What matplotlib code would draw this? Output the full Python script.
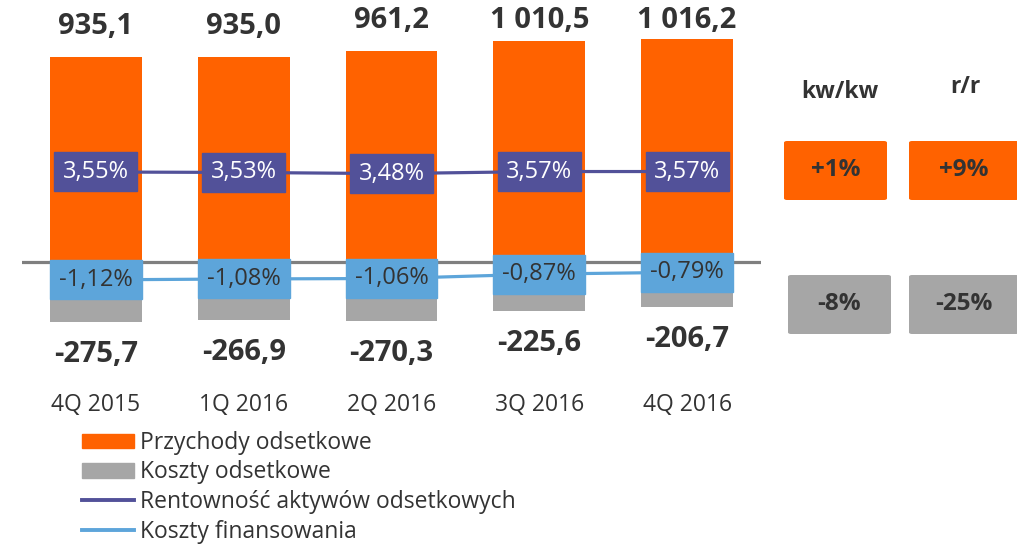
import matplotlib
matplotlib.use("Agg")
import matplotlib.pyplot as plt
from matplotlib.patches import Rectangle, FancyBboxPatch, Patch
from matplotlib.lines import Line2D

plt.rcParams['font.family'] = ['Open Sans', 'DejaVu Sans']

# ---- data ----
categories = ["4Q 2015", "1Q 2016", "2Q 2016", "3Q 2016", "4Q 2016"]
przychody = [935.1, 935.0, 961.2, 1010.5, 1016.2]
koszty = [-275.7, -266.9, -270.3, -225.6, -206.7]
rentownosc = [3.55, 3.53, 3.48, 3.57, 3.57]
koszty_fin = [-1.12, -1.08, -1.06, -0.87, -0.79]
change_headers = ["kw/kw", "r/r"]
change_przychody = ["+1%", "+9%"]
change_koszty = ["-8%", "-25%"]
legend_labels = ["Przychody odsetkowe", "Koszty odsetkowe",
                 "Rentowność aktywów odsetkowych", "Koszty finansowania"]

ORANGE = "#FF6200"
GRAY = "#A6A6A6"
PURPLE = "#525199"
LBLUE = "#5DA5DA"
TXT = "#333333"
ZERO = "#7F7F7F"

W, H = 1017, 546
fig = plt.figure(figsize=(W / 100, H / 100), dpi=100)

def fx(x):
    return x / W

def fy(y):
    return 1 - y / H

# main axes: pixel x 22..761, pixel y 0..390
ax = fig.add_axes([fx(22), fy(390), (761 - 22) / W, 390 / H])
ax2 = ax.twinx()
ax2.set_position(ax.get_position())

x = list(range(len(categories)))
bw = 0.62
ax.bar(x, przychody, width=bw, color=ORANGE, zorder=2)
ax.bar(x, koszty, width=bw, color=GRAY, zorder=2)
ax.axhline(0, color=ZERO, lw=2.3, zorder=3)

scale = 0.219  # px per unit
ax.set_ylim(-(390 - 262) / scale, 262 / scale)
ax.set_xlim(-0.5, len(categories) - 0.5)

pscale = 23.1  # px per %
ax2.set_ylim((254 - 390) / pscale, 254 / pscale)

top_limit = (262 - 20) / scale  # labels never rise above this level
for i, v in enumerate(przychody):
    ly = min(v + 31 / scale, top_limit)
    ax.text(i, ly, f"{v:,.1f}".replace(",", " ").replace(".", ","),
            ha="center", va="center", fontsize=21, fontweight="bold", color=TXT)
for i, v in enumerate(koszty):
    ax.annotate(f"{v:.1f}".replace(".", ","), (i, v),
                xytext=(0, -23), textcoords="offset points",
                ha="center", va="center", fontsize=21, fontweight="bold", color=TXT)

ax.set_xticks(x)
ax.set_xticklabels(categories, fontsize=16.5, color=TXT)
ax.tick_params(axis="x", length=0, pad=2)
ax.set_yticks([])
ax2.set_yticks([])
for a in (ax, ax2):
    for s in a.spines.values():
        s.set_visible(False)
    a.patch.set_visible(False)

ax2.plot(x, rentownosc, color=PURPLE, lw=2.3, zorder=2)
ax2.plot(x, koszty_fin, color=LBLUE, lw=2.3, zorder=2)

bh = 39 / pscale
pw = 83 / 147.8
for i, v in enumerate(rentownosc):
    ax2.add_patch(Rectangle((i - pw / 2, v - bh / 2), pw, bh, color=PURPLE, zorder=4))
    ax2.text(i, v, f"{v:.2f}%".replace(".", ","), ha="center", va="center",
             fontsize=17, color="white", zorder=5)
for i, v in enumerate(koszty_fin):
    ax2.add_patch(Rectangle((i - bw / 2, v - bh / 2), bw, bh, color=LBLUE, zorder=4))
    ax2.text(i, v, f"{v:.2f}%".replace(".", ","), ha="center", va="center",
             fontsize=17, color=TXT, zorder=5)

# right panel
hdr_pos = [(840, 92), (965, 87)]
for (px_, py_), t in zip(hdr_pos, change_headers):
    fig.text(fx(px_), fy(py_), t, ha="center", va="center", fontsize=16.5,
             fontweight="bold", color=TXT)

def box(x0, y0, x1, y1, color, label):
    p = FancyBboxPatch((fx(x0), fy(y1)), fx(x1 - x0), (y1 - y0) / H,
                       boxstyle="round,pad=0,rounding_size=0.003",
                       transform=fig.transFigure, facecolor=color,
                       edgecolor="none", zorder=1)
    fig.patches.append(p)
    fig.text(fx((x0 + x1) / 2), fy((y0 + y1) / 2), label, ha="center", va="center",
             fontsize=17.5, fontweight="bold", color=TXT)

box(784, 141, 887, 200, ORANGE, change_przychody[0])
box(909, 141, 1019, 200, ORANGE, change_przychody[1])
box(788, 275, 891, 334, GRAY, change_koszty[0])
box(909, 275, 1019, 334, GRAY, change_koszty[1])

handles = [Patch(color=ORANGE), Patch(color=GRAY),
           Line2D([], [], color=PURPLE, lw=2.8), Line2D([], [], color=LBLUE, lw=2.8)]
leg = fig.legend(handles, legend_labels, loc="upper left",
                 bbox_to_anchor=(fx(82), fy(431)), frameon=False,
                 fontsize=16.5, borderpad=0, borderaxespad=0,
                 handlelength=2.27, handleheight=0.6,
                 handletextpad=0.27, labelspacing=0.24)
for t in leg.get_texts():
    t.set_color(TXT)

fig.savefig("out.png", dpi=100)
